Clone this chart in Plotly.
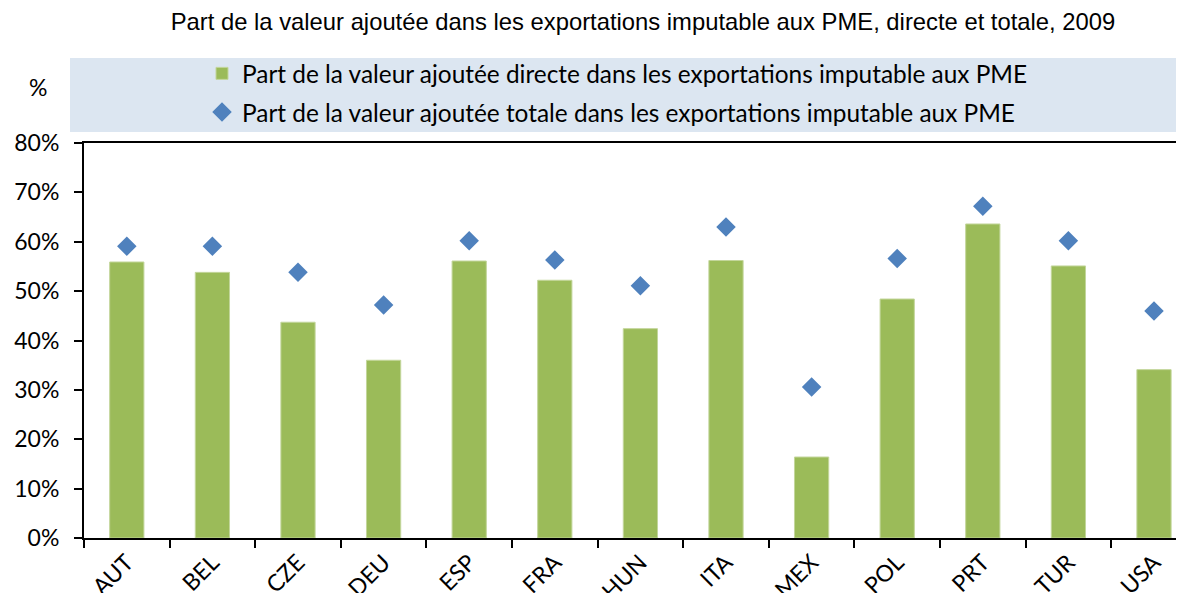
import plotly.graph_objects as go

countries = ["AUT", "BEL", "CZE", "DEU", "ESP", "FRA", "HUN", "ITA", "MEX", "POL", "PRT", "TUR", "USA"]
direct_va = [55.9, 53.8, 43.7, 36.0, 56.1, 52.2, 42.4, 56.2, 16.4, 48.4, 63.6, 55.1, 34.1]
total_va = [59.1, 59.1, 53.8, 47.2, 60.2, 56.3, 51.1, 63.0, 30.6, 56.6, 67.2, 60.2, 46.0]
y_ticks = [0, 10, 20, 30, 40, 50, 60, 70, 80]
y_tick_labels = ["0%", "10%", "20%", "30%", "40%", "50%", "60%", "70%", "80%"]

title_text = "Part de la valeur ajoutée dans les exportations imputable aux PME, directe et totale, 2009"
name_direct = "Part de la valeur ajoutée directe dans les exportations imputable aux PME"
name_total = "Part de la valeur ajoutée totale dans les exportations imputable aux PME"

# page body margin offset (default 8px)
OFF = 8
W, H = 1184 - OFF, 593 - OFF
# plot area in page coordinates: left 84, top 143, bottom 538, right 1184
L, T = 84 - OFF, 143 - OFF
B = H - (538 - OFF)
R = 0
pw, ph = W - L - R, H - T - B

def px(x_page):
    return (x_page - OFF - L) / pw

def py(y_page):
    return (H - B - (y_page - OFF)) / ph

fig = go.Figure()
fig.add_trace(go.Bar(
    x=countries, y=direct_va, name=name_direct, width=0.4, legendgroup="a",
    marker=dict(color="#9BBB59", line=dict(color="#C3D69B", width=1)),
))
fig.add_trace(go.Scatter(
    x=countries, y=total_va, name=name_total, mode="markers", legendgroup="b",
    marker=dict(symbol="diamond", size=15, color="#4F81BD"),
))

font_main = "Lato, Calibri, 'Open Sans', sans-serif"

fig.update_layout(
    width=W, height=H,
    margin=dict(l=L, r=R, t=T, b=B, autoexpand=False),
    paper_bgcolor="white", plot_bgcolor="white",
    showlegend=True,
    legend=dict(
        x=px(202), y=py(51), xanchor="left", yanchor="top",
        bgcolor="rgba(0,0,0,0)", font=dict(family=font_main, size=24.4, color="black"),
        traceorder="grouped", tracegroupgap=4, itemwidth=30,
    ),
    title=dict(
        text=title_text, x=(643 - OFF) / W, xanchor="center", y=1 - (22 - OFF) / H, yanchor="middle",
        font=dict(family="'Liberation Sans', Arial, sans-serif", size=23.8, color="black"),
    ),
    xaxis=dict(
        range=[-0.5, -0.5 + pw / 85.6], type="category", automargin=False,
        showline=True, linecolor="black", linewidth=2, mirror=True,
        ticks="outside", tickson="boundaries", ticklen=8, tickcolor="black", tickwidth=2,
        tickangle=-45, tickfont=dict(family=font_main, size=23, color="black"),
        showgrid=False, zeroline=False,
    ),
    yaxis=dict(
        range=[0, 80], tickvals=y_ticks, ticktext=y_tick_labels, automargin=False,
        showline=True, linecolor="black", linewidth=2,
        ticks="outside", ticklen=8, tickcolor="black", tickwidth=2,
        tickfont=dict(family=font_main, size=23, color="black"),
        ticklabelstandoff=10,
        showgrid=False, zeroline=False,
    ),
    shapes=[dict(
        type="rect", xref="paper", yref="paper",
        x0=px(70), x1=px(1183), y0=py(132), y1=py(58),
        fillcolor="#DCE6F1", line=dict(width=0), layer="below",
    )],
    annotations=[dict(
        text="%", xref="paper", yref="paper", x=px(38), y=py(87),
        xanchor="center", yanchor="middle", showarrow=False,
        font=dict(family=font_main, size=23, color="black"),
    )],
)

fig.write_html("out.html")
